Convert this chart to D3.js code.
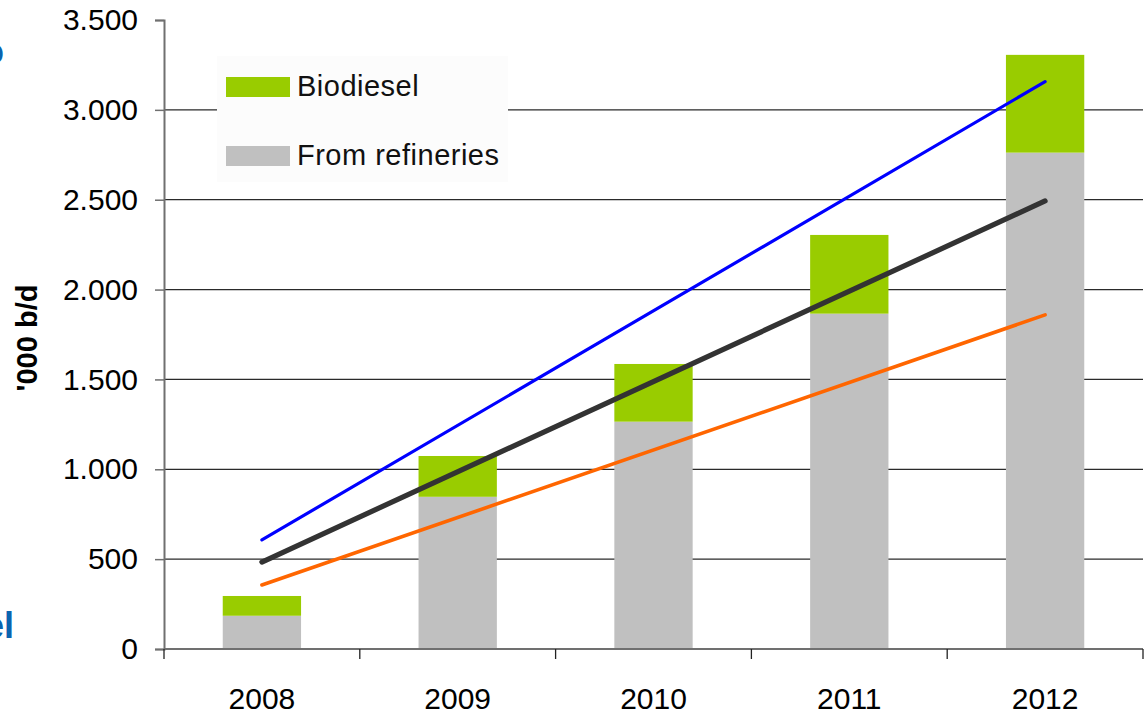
<!DOCTYPE html>
<html>
<head>
<meta charset="utf-8">
<script src="https://cdn.jsdelivr.net/npm/d3@7"></script>
<style>
  html, body { margin: 0; padding: 0; background: #fff; }
  svg { display: block; font-family: "Liberation Sans", Arial, sans-serif; }
</style>
</head>
<body>
<svg id="chart" width="1145" height="714"></svg>
<script>
// Diesel supply, thousand barrels per day
const years = ["2008", "2009", "2010", "2011", "2012"];
const fromRefineries = [185, 847, 1265, 1866, 2762];
const biodiesel = [110, 227, 321, 438, 544];

// Trend lines, drawn from first to last year
const trendYears = ["2008", "2012"];
const trendHigh = [607, 3157];
const trendMid = [484, 2493];
const trendLow = [356, 1859];

const yTicks = [0, 500, 1000, 1500, 2000, 2500, 3000, 3500];
const yTitle = "'000 b/d";
const legendLabels = ["Biodiesel", "From refineries"];

const svg = d3.select("#chart");
const plotLeft = 164, plotRight = 1143, plotTop = 20, plotBottom = 649;

const x = d3.scaleBand().domain(years).range([plotLeft, plotRight]);
const y = d3.scaleLinear().domain([0, 3500]).range([plotBottom, plotTop]);
const fmt = d3.formatLocale({ decimal: ",", thousands: ".", grouping: [3], currency: ["", ""] }).format(",d");

const green = "#99CC00", grey = "#C0C0C0";

// Fragments of neighbouring slide text at the left edge
svg.append("text").attr("x", 4).attr("y", 64).attr("text-anchor", "end")
  .attr("font-size", 36).attr("font-weight", "bold").attr("fill", "#0a64b0").text("o");
svg.append("text").attr("x", 14).attr("y", 638).attr("text-anchor", "end")
  .attr("font-size", 36).attr("font-weight", "bold").attr("fill", "#0a64b0").text("el");

// Horizontal gridlines
svg.append("g").selectAll("line")
  .data(yTicks.filter(v => v > 0 && v < 3500))
  .join("line")
  .attr("x1", plotLeft).attr("x2", plotRight)
  .attr("y1", d => y(d)).attr("y2", d => y(d))
  .attr("stroke", "#2a2a2a").attr("stroke-width", 1.3);

// Stacked bars
const barW = x.bandwidth() * 0.4;
const bars = svg.append("g");
years.forEach((yr, i) => {
  const bx = x(yr) + (x.bandwidth() - barW) / 2;
  bars.append("rect")
    .attr("x", bx).attr("width", barW)
    .attr("y", y(fromRefineries[i])).attr("height", y(0) - y(fromRefineries[i]))
    .attr("fill", grey);
  const total = fromRefineries[i] + biodiesel[i];
  bars.append("rect")
    .attr("x", bx).attr("width", barW)
    .attr("y", y(total)).attr("height", y(fromRefineries[i]) - y(total))
    .attr("fill", green);
});

// Trend lines
const line = d3.line().x(d => x(d[0]) + x.bandwidth() / 2).y(d => y(d[1]));
[[trendHigh, "#0000FF", 3.2], [trendLow, "#FF6600", 3.6], [trendMid, "#333333", 5.2]].forEach(([vals, col, w]) => {
  svg.append("path")
    .datum(trendYears.map((t, i) => [t, vals[i]]))
    .attr("d", line)
    .attr("fill", "none").attr("stroke", col).attr("stroke-width", w)
    .attr("stroke-linecap", "round");
});

// Y axis
const yAxis = svg.append("g").attr("transform", `translate(${plotLeft},0)`)
  .call(d3.axisLeft(y).tickValues(yTicks).tickFormat(fmt).tickSize(9).tickPadding(17));
yAxis.select(".domain").attr("stroke", "#707070").attr("stroke-width", 2);
yAxis.selectAll(".tick line").attr("stroke", "#707070").attr("stroke-width", 1.5);
yAxis.selectAll("text").attr("font-size", 30).attr("fill", "#000")
  .attr("font-family", "'Liberation Sans', Arial, sans-serif");

// X axis: baseline, boundary ticks and year labels
const xAxis = svg.append("g");
xAxis.append("line").attr("x1", plotLeft).attr("x2", plotRight).attr("y1", plotBottom).attr("y2", plotBottom)
  .attr("stroke", "#707070").attr("stroke-width", 2);
xAxis.selectAll("line.tk")
  .data(years.map(v => x(v)).concat([x(years[years.length - 1]) + x.bandwidth()]))
  .join("line").attr("class", "tk")
  .attr("x1", d => d).attr("x2", d => d)
  .attr("y1", plotBottom).attr("y2", plotBottom + 10)
  .attr("stroke", "#222").attr("stroke-width", 1.3);
xAxis.selectAll("text")
  .data(years).join("text")
  .attr("x", d => x(d) + x.bandwidth() / 2).attr("y", 709)
  .attr("text-anchor", "middle").attr("font-size", 30).attr("fill", "#000")
  .text(d => d);

// Y axis title
svg.append("text")
  .attr("transform", "translate(37,338) rotate(-90)")
  .attr("text-anchor", "middle").attr("font-size", 29).attr("font-weight", "bold")
  .attr("fill", "#000").text(yTitle);

// Legend
const lg = svg.append("g");
lg.append("rect").attr("x", 217).attr("y", 56).attr("width", 291).attr("height", 126).attr("fill", "#fcfcfc");
[[green, 77, 96], [grey, 146, 165]].forEach(([col, sy, ty], i) => {
  lg.append("rect").attr("x", 226).attr("y", sy).attr("width", 64).attr("height", 20).attr("fill", col);
  lg.append("text").attr("x", 297).attr("y", ty).attr("font-size", 29)
    .attr("letter-spacing", 0.5).attr("fill", "#111").text(legendLabels[i]);
});
</script>
</body>
</html>
